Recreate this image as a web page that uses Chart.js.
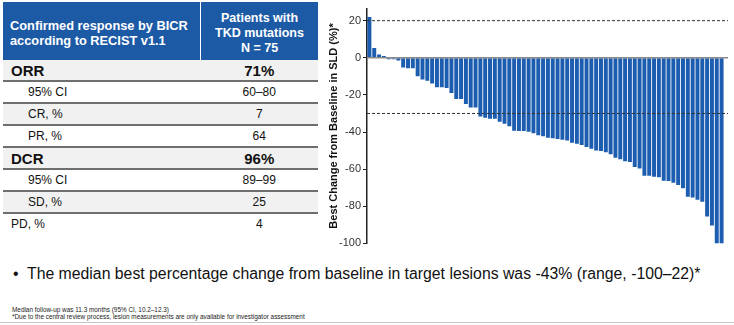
<!DOCTYPE html>
<html>
<head>
<meta charset="utf-8">
<script src="https://cdn.jsdelivr.net/npm/chart.js@4"></script>
<style>
  body { margin: 0; width: 734px; height: 325px; background: #fff; font-family: Arial, "Liberation Sans", sans-serif; position: relative; overflow: hidden; }
  #tbl { position: absolute; left: 3px; top: 2px; width: 315px; border-collapse: collapse; color: #111; table-layout: fixed; }
  #tbl th { background: #1d5aa6; color: #fff; font-weight: bold; font-size: 12.5px; line-height: 15px; height: 54px; padding: 4px 0 0 0; white-space: nowrap; }
  #tbl th.c1 { text-align: left; padding-left: 7px; width: 190px; border-right: 1.5px solid #fff; font-size: 12.8px; }
  #tbl th.c2 { text-align: center; }
  #tbl td { height: 20px; padding: 0; border-bottom: 2px solid #6e6e6e; font-size: 12px; }
  #tbl tr.g td { background: #f1f1f1; }
  #tbl td.v { text-align: center; }
  #tbl td.sub { padding-left: 25px; }
  #tbl td.main { padding-left: 8px; font-weight: bold; font-size: 15px; }
  #tbl td.mainv { font-weight: bold; font-size: 15px; text-align: center; }
  #tbl td.pd { padding-left: 8px; }
  #tbl tr.last td { border-bottom: none; }
  #wrap { position: absolute; left: 327px; top: 0; width: 407px; height: 252px; }
  #bullet { position: absolute; left: 13px; top: 265px; font-size: 15.8px; color: #111; white-space: nowrap; }
  #bullet span { display: inline-block; width: 14px; }
  #foot { position: absolute; left: 12px; top: 307px; font-size: 6.4px; line-height: 6.6px; color: #222; white-space: nowrap; }
  #rule { position: absolute; left: 0; top: 322px; width: 734px; height: 1px; background: #c8c8c8; }
</style>
</head>
<body>
<table id="tbl">
  <tr><th class="c1">Confirmed response by BICR<br>according to RECIST v1.1</th><th class="c2">Patients with<br>TKD mutations<br>N = 75</th></tr>
  <tr class="g"><td class="main">ORR</td><td class="mainv">71%</td></tr>
  <tr><td class="sub">95% CI</td><td class="v">60–80</td></tr>
  <tr class="g"><td class="sub">CR, %</td><td class="v">7</td></tr>
  <tr><td class="sub">PR, %</td><td class="v">64</td></tr>
  <tr class="g"><td class="main">DCR</td><td class="mainv">96%</td></tr>
  <tr><td class="sub">95% CI</td><td class="v">89–99</td></tr>
  <tr class="g"><td class="sub">SD, %</td><td class="v">25</td></tr>
  <tr class="last"><td class="pd">PD, %</td><td class="v">4</td></tr>
</table>

<div id="wrap"><canvas id="myChart"></canvas></div>

<div id="bullet"><span>•</span>The median best percentage change from baseline in target lesions was -43% (range, -100–22)*</div>
<div id="foot">Median follow-up was 11.3 months (95% CI, 10.2–12.3)<br>*Due to the central review process, lesion measurements are only available for investigator assessment</div>
<div id="rule"></div>

<script>
// best change from baseline in SLD (%), one bar per patient, sorted
const changes = [
  22, 5.3, 1.8, 0.9, -0.8, -0.8, -1.5, -5.3, -5.7, -5.7,
  -9.9, -11.7, -12.4, -13.8, -15.9, -15.9, -16.3, -19, -22.2, -22.2,
  -24.9, -26.8, -26.8, -31.6, -32.3, -32.8, -32.9, -34.4, -35.6, -36.9,
  -39.3, -39.4, -39.5, -39.8, -40.6, -41.8, -42.3, -43.1, -43.4, -43.8,
  -44.2, -44.5, -45.8, -46.3, -47, -48.1, -49, -49.9, -50.2, -50.9,
  -52, -53.8, -54.7, -55.7, -56.1, -58.8, -59.6, -63.5, -63.5, -64.1,
  -64.4, -66.2, -66.4, -67.3, -68.5, -70.3, -74.8, -75.3, -76.5, -77.5,
  -85.5, -90.3, -100, -100
];
const patients = changes.map((v, i) => 'P' + (i + 1));
const yTicks = [20, 0, -20, -40, -60, -80, -100];
const refLines = [20, -30];

// dashed reference lines and the zero line
const linesPlugin = {
  id: 'refLines',
  afterDatasetsDraw(chart) {
    const { ctx, chartArea, scales } = chart;
    ctx.save();
    let y0 = scales.y.getPixelForValue(0);
    ctx.strokeStyle = '#8a8a8a';
    ctx.lineWidth = 1.5;
    ctx.beginPath();
    ctx.moveTo(chartArea.left, y0);
    ctx.lineTo(chartArea.right + 4, y0);
    ctx.stroke();
    ctx.strokeStyle = '#333';
    ctx.lineWidth = 1;
    ctx.setLineDash([3, 2]);
    refLines.forEach(v => {
      let y = scales.y.getPixelForValue(v);
      ctx.beginPath();
      ctx.moveTo(chartArea.left, y);
      ctx.lineTo(chartArea.right + 4, y);
      ctx.stroke();
    });
    ctx.restore();
  }
};

const ctx = document.getElementById('myChart').getContext('2d');
const myChart = new Chart(ctx, {
  type: 'bar',
  data: {
    labels: patients,
    datasets: [{
      data: changes,
      backgroundColor: '#1c5db0',
      borderWidth: 0,
      barPercentage: 0.82,
      categoryPercentage: 1
    }]
  },
  options: {
    responsive: true,
    maintainAspectRatio: false,
    animation: false,
    layout: { padding: { top: 7, right: 10, bottom: 6, left: 0 } },
    plugins: { legend: { display: false }, tooltip: { enabled: false } },
    scales: {
      x: { display: false },
      y: {
        min: -100,
        max: 26.5,
        afterBuildTicks: scale => { scale.ticks = yTicks.map(v => ({ value: v })); },
        afterFit: scale => { scale.width = 40; },
        border: { color: '#222', width: 1.5 },
        grid: { drawOnChartArea: false, drawTicks: true, tickLength: 4, tickColor: '#222' },
        ticks: { color: '#333', font: { family: 'Arial', size: 11 }, padding: 2 },
        title: {
          display: true,
          text: 'Best Change from Baseline in SLD (%)*',
          color: '#111',
          font: { family: 'Arial', size: 11, weight: 'bold' },
          padding: 0
        }
      }
    }
  },
  plugins: [linesPlugin]
});
</script>
</body>
</html>
